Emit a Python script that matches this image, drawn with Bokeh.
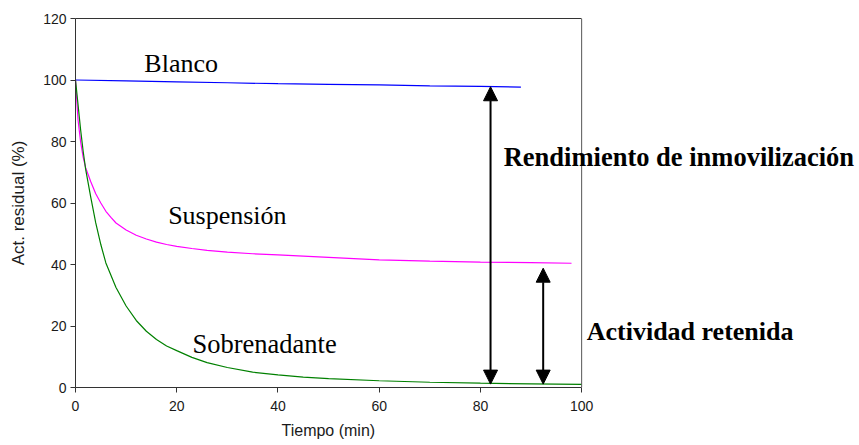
from bokeh.plotting import figure
from bokeh.models import Range1d, Label, Arrow, NormalHead, FixedTicker, LinearAxis, Span, Title
from bokeh.embed import file_html
from bokeh.resources import INLINE

# --- data ---
blanco_t = [0, 10, 20, 30, 40, 50, 60, 70, 80, 88]
blanco_y = [100, 99.7, 99.4, 99.1, 98.8, 98.6, 98.4, 98.1, 97.9, 97.7]

susp_t = [0, 0.5, 1, 1.5, 2, 3, 4, 5, 6, 7, 8, 10, 12, 14, 16, 18, 20, 23, 26, 30, 35, 40, 45, 50, 60, 70, 80, 90, 98]
susp_y = [100, 87, 80, 75, 71.5, 67, 63, 60, 57.3, 55.3, 53.5, 51.2, 49.5, 48.3, 47.3, 46.5, 45.9, 45.2, 44.6, 44.0, 43.5, 43.1, 42.7, 42.3, 41.5, 41.1, 40.8, 40.6, 40.4]

sobre_t = [0, 0.5, 1, 1.5, 2, 3, 4, 5, 6, 7, 8, 10, 12, 14, 16, 18, 20, 23, 26, 30, 35, 40, 45, 50, 60, 70, 80, 90, 100]
sobre_y = [100, 92, 84, 77, 71, 62, 53.5, 46.5, 40.5, 36.5, 32.5, 26.5, 21.8, 18.3, 15.6, 13.5, 12.0, 9.8, 8.1, 6.5, 5.0, 4.1, 3.4, 2.9, 2.2, 1.7, 1.4, 1.2, 1.0]

x_ticks = [0, 20, 40, 60, 80, 100]
y_ticks = [0, 20, 40, 60, 80, 100, 120]
x_axis_bounds = (0, 100)

# arrows (x, y_low, y_high)
arrow_rend = (82.0, 1.1, 97.8)
arrow_ret = (92.4, 1.1, 38.8)

# frame extends right of x=100 so annotation text outside the axes box is not clipped
p = figure(width=857, height=445, output_backend="svg", toolbar_location=None,
           x_range=Range1d(0, 154.5), y_range=Range1d(0, 120),
           min_border_left=75, min_border_right=0, min_border_top=18, min_border_bottom=58)

p.xgrid.visible = False
p.ygrid.visible = False
p.outline_line_color = None

axc = "#333333"
for ax in (p.xaxis[0], p.yaxis[0]):
    ax.axis_line_color = axc
    ax.major_tick_line_color = axc
    ax.minor_tick_line_color = None
    ax.major_tick_in = 0
    ax.major_tick_out = 5
    ax.major_label_text_font = "Liberation Sans"
    ax.major_label_text_font_size = "14px"
    ax.major_label_text_color = "#1a1a1a"
    ax.axis_label_text_font = "Liberation Sans"
    ax.axis_label_text_font_style = "normal"
    ax.axis_label_text_color = "#1a1a1a"

p.xaxis.bounds = x_axis_bounds
p.xaxis.ticker = FixedTicker(ticks=x_ticks)
p.yaxis.ticker = FixedTicker(ticks=y_ticks)
p.yaxis.axis_label = "Act. residual (%)"
p.yaxis.axis_label_text_font_size = "17px"
p.xaxis.major_label_standoff = 8
p.yaxis.major_label_standoff = 4
p.yaxis.axis_label_standoff = 12

# x-axis title, centred under the 0-100 axis (frame is wider than the axis)
p.add_layout(Title(text="Tiempo (min)", align="left", offset=206, vertical_align="bottom",
                   text_font="Liberation Sans", text_font_size="16px",
                   text_font_style="normal", text_color="#1a1a1a", standoff=13), "below")

# top border of the axes box
top = LinearAxis(bounds=x_axis_bounds, ticker=FixedTicker(ticks=[]),
                 major_label_text_font_size="0px", axis_line_color=axc,
                 major_tick_line_color=None, minor_tick_line_color=None)
p.add_layout(top, "above")
# right border of the axes box
p.add_layout(Span(location=100, dimension="height", line_color="#555555", line_width=1))

p.line(blanco_t, blanco_y, line_color="#0000FF", line_width=1.2)
p.line(susp_t, susp_y, line_color="#FF00FF", line_width=1.2)
p.line(sobre_t, sobre_y, line_color="#008000", line_width=1.2)

for (ax_x, y0, y1) in (arrow_rend, arrow_ret):
    p.add_layout(Arrow(x_start=ax_x, y_start=y0, x_end=ax_x, y_end=y1,
                       line_color="black", line_width=2,
                       start=NormalHead(size=14, fill_color="black", line_color="black"),
                       end=NormalHead(size=14, fill_color="black", line_color="black")))

serif = "Liberation Serif"
texts = [
    ("Blanco", 13.6, 102.6, "26px", "normal"),
    ("Suspensión", 18.3, 53.1, "26px", "normal"),
    ("Sobrenadante", 23.1, 11.1, "26.5px", "normal"),
    ("Rendimiento de inmovilización", 84.6, 72.0, "26.5px", "bold"),
    ("Actividad retenida", 101.0, 15.4, "26px", "bold"),
]
for t, x, y, fs, st in texts:
    p.add_layout(Label(x=x, y=y, y_offset=9, text=t, text_font=serif, text_font_size=fs,
                       text_font_style=st, text_color="black",
                       text_baseline="alphabetic", text_align="left"))

open("out.html", "w").write(file_html(p, INLINE))
